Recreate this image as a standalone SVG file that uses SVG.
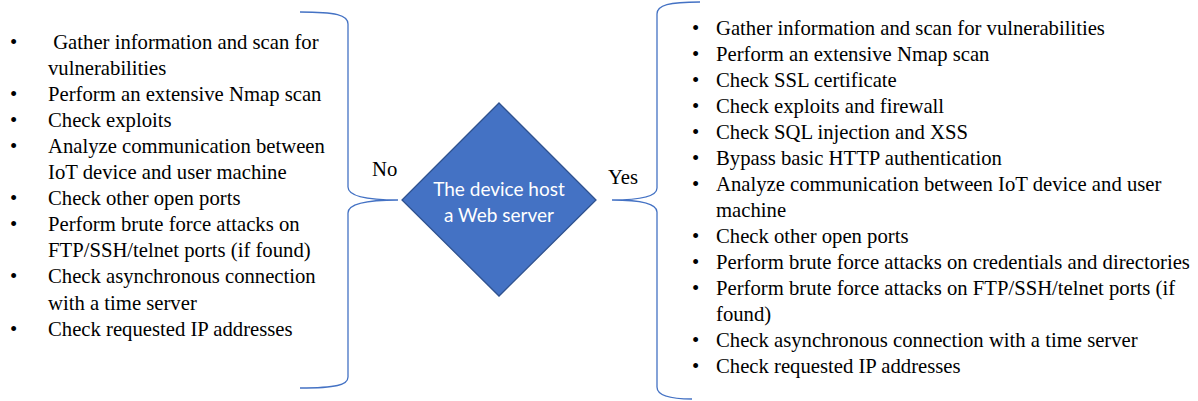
<svg xmlns="http://www.w3.org/2000/svg" width="1198" height="401" viewBox="0 0 1198 401">
  <style>
    .item { font-family: "Liberation Serif", "Times New Roman", serif; font-size: 20.7px; fill: #000; }
    .label { font-family: "Liberation Serif", "Times New Roman", serif; font-size: 20.7px; fill: #000; }
    .brace { fill: none; stroke: #4472C4; stroke-width: 1.3; }
    .decision { fill: #4472C4; stroke: #2F528F; stroke-width: 1.3; }
    .decision-text { font-family: Lato, "Open Sans", sans-serif; font-size: 19px; fill: #fff; text-anchor: middle; }
  </style>

  <!-- "No" branch: checklist for devices without a web server -->
  <g id="no-list" class="item">
    <text x="10" y="48.5">•</text><text x="48" y="48.5" xml:space="preserve"> Gather information and scan for</text>
    <text x="48" y="74.6">vulnerabilities</text>
    <text x="10" y="100.7">•</text><text x="48" y="100.7">Perform an extensive Nmap scan</text>
    <text x="10" y="126.8">•</text><text x="48" y="126.8">Check exploits</text>
    <text x="10" y="152.9">•</text><text x="48" y="152.9">Analyze communication between</text>
    <text x="48" y="179">IoT device and user machine</text>
    <text x="10" y="205.1">•</text><text x="48" y="205.1">Check other open ports</text>
    <text x="10" y="231.2">•</text><text x="48" y="231.2">Perform brute force attacks on</text>
    <text x="48" y="257.3">FTP/SSH/telnet ports (if found)</text>
    <text x="10" y="283.4">•</text><text x="48" y="283.4">Check asynchronous connection</text>
    <text x="48" y="309.5">with a time server</text>
    <text x="10" y="335.6">•</text><text x="48" y="335.6">Check requested IP addresses</text>
  </g>

  <!-- "Yes" branch: checklist for devices hosting a web server -->
  <g id="yes-list" class="item">
    <text x="692" y="35">•</text><text x="716" y="35">Gather information and scan for vulnerabilities</text>
    <text x="692" y="61">•</text><text x="716" y="61">Perform an extensive Nmap scan</text>
    <text x="692" y="87">•</text><text x="716" y="87">Check SSL certificate</text>
    <text x="692" y="113">•</text><text x="716" y="113">Check exploits and firewall</text>
    <text x="692" y="139">•</text><text x="716" y="139">Check SQL injection and XSS</text>
    <text x="692" y="165">•</text><text x="716" y="165">Bypass basic HTTP authentication</text>
    <text x="692" y="191">•</text><text x="716" y="191">Analyze communication between IoT device and user</text>
    <text x="716" y="217">machine</text>
    <text x="692" y="243">•</text><text x="716" y="243">Check other open ports</text>
    <text x="692" y="269">•</text><text x="716" y="269">Perform brute force attacks on credentials and directories</text>
    <text x="692" y="295">•</text><text x="716" y="295">Perform brute force attacks on FTP/SSH/telnet ports (if</text>
    <text x="716" y="321">found)</text>
    <text x="692" y="347">•</text><text x="716" y="347">Check asynchronous connection with a time server</text>
    <text x="692" y="373">•</text><text x="716" y="373">Check requested IP addresses</text>
  </g>

  <!-- decision node -->
  <g id="decision">
    <polygon class="decision" points="499,103 596,200 499,296 402,200"/>
    <text class="decision-text" x="499" y="195.5">The device host</text>
    <text class="decision-text" x="499" y="221.5">a Web server</text>
  </g>

  <!-- braces joining the decision to each checklist -->
  <g id="connectors">
    <path class="brace" d="M300,12 C336,12 348,15 348,24 L348,187 C348,196 366,200 398,200 C366,200 348,204 348,213 L348,377 C348,385 336,388 300,388"/>
    <path class="brace" d="M700,2 C669,2 657,5 657,14 L657,188 C657,196 641,200 612,200 C641,200 657,204 657,212 L657,387 C657,395 668,399 692,399"/>
    <text class="label" x="372" y="176">No</text>
    <text class="label" x="608" y="184">Yes</text>
  </g>
</svg>
